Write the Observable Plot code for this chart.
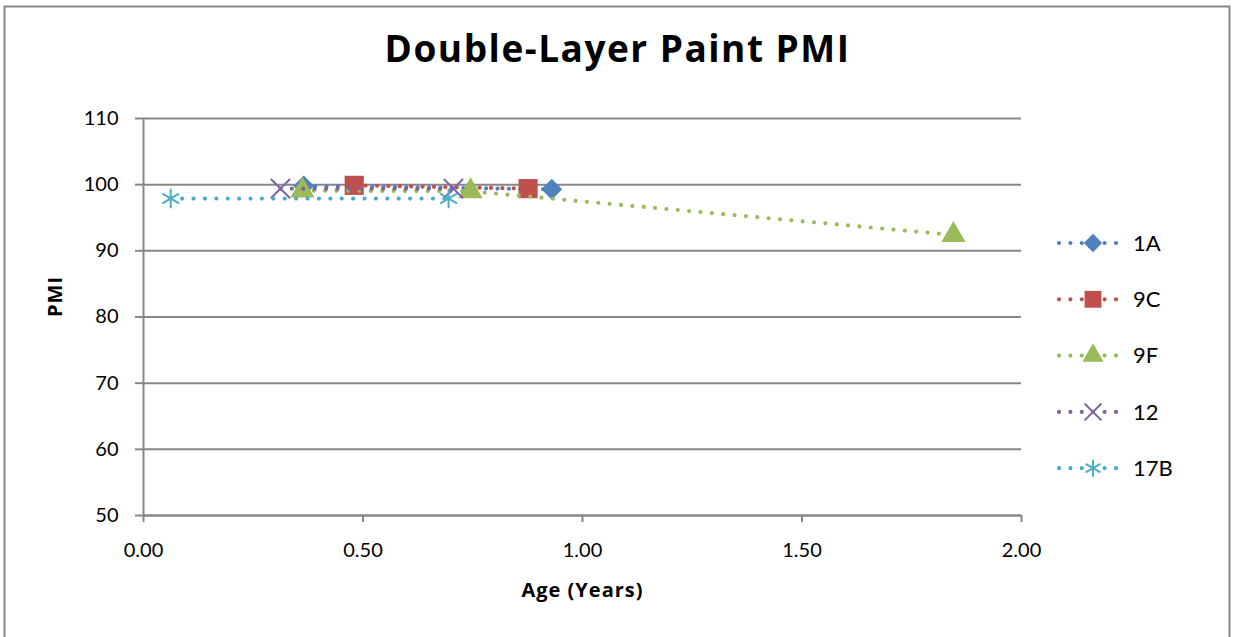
<!DOCTYPE html>
<html>
<head>
<meta charset="utf-8">
<script src="https://cdn.jsdelivr.net/npm/d3@7"></script>
<script src="https://cdn.jsdelivr.net/npm/@observablehq/plot@0.6"></script>
<style>
  html, body { margin: 0; padding: 0; background: #fff; }
  #chart svg { display: block; }
</style>
</head>
<body>
<div id="chart"></div>
<script>
// Paint PMI readings by age, one series per sample
const seriesNames = ["1A", "9C", "9F", "12", "17B"];
const seriesColors = ["#4F81BD", "#C0504D", "#9BBB59", "#8064A2", "#4BACC6"];
const seriesSymbols = ["diamond2", "square", "triangle", "times", "asterisk"];

const age1A = [0.365, 0.930];
const pmi1A = [99.8, 99.3];
const age9C = [0.480, 0.876];
const pmi9C = [99.9, 99.4];
const age9F = [0.362, 0.745, 1.845];
const pmi9F = [99.1, 99.0, 92.4];
const age12 = [0.312, 0.706];
const pmi12 = [99.4, 99.4];
const age17B = [0.062, 0.695];
const pmi17B = [97.9, 97.9];

const xTicks = [0, 0.5, 1, 1.5, 2];
const yTicks = [50, 60, 70, 80, 90, 100, 110];

const titleText = "Double-Layer Paint PMI";
const xLabel = "Age (Years)";
const yLabel = "PMI";

const ages = [age1A, age9C, age9F, age12, age17B];
const pmis = [pmi1A, pmi9C, pmi9F, pmi12, pmi17B];

const series = seriesNames.map((name, i) => ({
  name,
  color: seriesColors[i],
  symbol: seriesSymbols[i],
  rows: ages[i].map((a, j) => ({age: a, pmi: pmis[i][j], name}))
}));

const gray = "#878787";
const font = "Lato, 'Open Sans', sans-serif";
const boldFont = "'Open Sans', Lato, sans-serif";
const filled = new Set(["diamond2", "square", "triangle"]);
const markerR = {diamond2: 9.4, square: 10.8, triangle: 9, times: 8.8, asterisk: 9.2};

const seriesMarks = series.flatMap(s => [
  Plot.line(s.rows, {
    x: "age", y: "pmi", stroke: s.color, strokeWidth: 4.2,
    strokeDasharray: "0 11.4", strokeLinecap: "round"
  }),
  Plot.dot(s.rows, {
    x: "age", y: "pmi", symbol: () => s.symbol, r: markerR[s.symbol],
    fill: filled.has(s.symbol) ? s.color : "none",
    stroke: filled.has(s.symbol) ? "none" : s.color,
    strokeWidth: 2
  })
]);

const chart = Plot.plot({
  width: 1233,
  height: 637,
  marginLeft: 143,
  marginRight: 212,
  marginTop: 118,
  marginBottom: 122,
  style: {fontFamily: font, fontSize: "20px", color: "#000", background: "#fff"},
  x: {domain: [0, 2]},
  y: {domain: [50, 110]},
  symbol: {type: "identity"},
  marks: [
    Plot.gridY(yTicks, {stroke: gray, strokeOpacity: 1, strokeWidth: 2}),
    Plot.ruleX([0], {stroke: gray, strokeWidth: 2}),
    Plot.ruleY([50], {stroke: gray, strokeWidth: 2}),
    Plot.axisY(yTicks, {
      tickSize: 8, tickPadding: 17, stroke: gray, strokeWidth: 2, fill: "#000",
      label: null, fontSize: 20
    }),
    Plot.axisX(xTicks, {
      tickSize: 7, tickPadding: 20, stroke: gray, strokeWidth: 2, fill: "#000",
      tickFormat: d3.format(".2f"), label: null, fontSize: 20
    }),
    ...seriesMarks,
    Plot.text([titleText], {
      frameAnchor: "top", lineAnchor: "middle", dx: 35, dy: -68, fontSize: 37,
      fontWeight: "bold", fontFamily: boldFont, fill: "#000"
    }),
    Plot.text([yLabel], {
      frameAnchor: "left", lineAnchor: "middle", dx: -88, rotate: -90, fontSize: 20,
      fontWeight: "bold", fontFamily: boldFont, fill: "#000"
    }),
    Plot.text([xLabel], {
      frameAnchor: "bottom", lineAnchor: "middle", dy: 75, fontSize: 20,
      fontWeight: "bold", fontFamily: boldFont, fill: "#000"
    })
  ]
});

const svg = d3.select(chart);

// Slightly looser tracking on the title and axis titles
svg.selectAll("text")
  .filter(function() { return this.textContent === titleText; })
  .attr("letter-spacing", "1.5px");
svg.selectAll("text")
  .filter(function() { return this.textContent === xLabel || this.textContent === yLabel; })
  .attr("letter-spacing", "1px");

// Outer chart border and legend drawn into the same SVG
svg.insert("rect", ":first-child")
  .attr("x", 4.5).attr("y", 6.5).attr("width", 1225).attr("height", 640)
  .attr("fill", "#fff").attr("stroke", gray).attr("stroke-width", 2);

const symbolTypes = {
  diamond2: d3.symbolDiamond2, square: d3.symbolSquare, triangle: d3.symbolTriangle,
  times: d3.symbolTimes, asterisk: d3.symbolAsterisk
};
const legend = svg.append("g")
  .attr("font-family", font).attr("font-size", 22).attr("text-anchor", "start");
series.forEach((s, i) => {
  const y = 243 + i * 56.3;
  const g = legend.append("g").attr("transform", `translate(0,${y})`);
  g.append("line")
    .attr("x1", 1059).attr("x2", 1118).attr("y1", 0).attr("y2", 0)
    .attr("stroke", s.color).attr("stroke-width", 4.2)
    .attr("stroke-dasharray", "0 11.4").attr("stroke-linecap", "round");
  const r = markerR[s.symbol] * 0.88;
  g.append("path")
    .attr("transform", "translate(1093,0)")
    .attr("d", d3.symbol(symbolTypes[s.symbol], Math.PI * r * r)())
    .attr("fill", filled.has(s.symbol) ? s.color : "none")
    .attr("stroke", filled.has(s.symbol) ? "none" : s.color)
    .attr("stroke-width", 2);
  g.append("text").attr("x", 1133).attr("dy", "0.35em").attr("fill", "#000").text(s.name);
});

document.getElementById("chart").appendChild(chart);
</script>
</body>
</html>
